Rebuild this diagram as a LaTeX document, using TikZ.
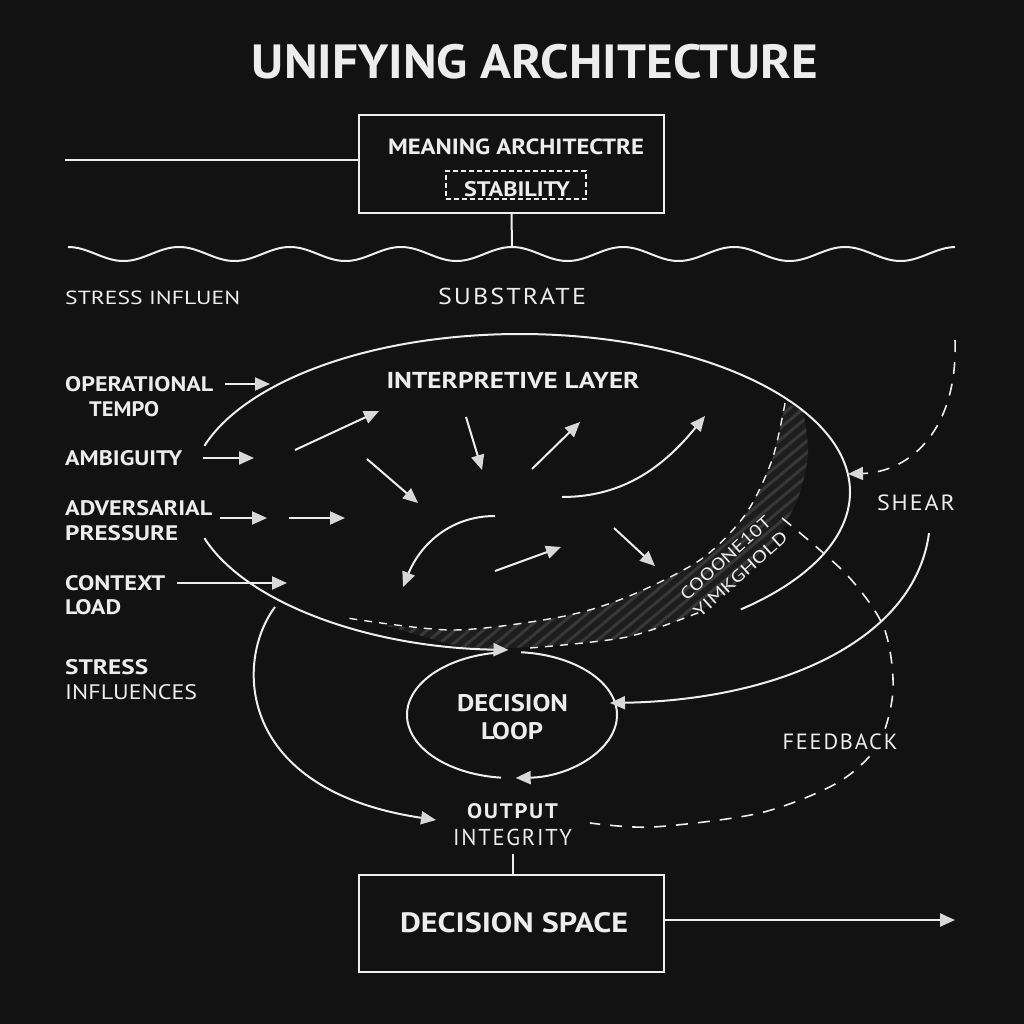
\documentclass[tikz,border=0pt]{standalone}
\usepackage{fontspec}
\usepackage{graphicx}
\setmainfont{PT Sans}
\newfontfamily\spaced{PT Sans}[LetterSpace=8]
\usetikzlibrary{arrows.meta,patterns.meta}
\definecolor{bgc}{HTML}{121212}
\definecolor{lnc}{HTML}{EEEEEE}
\definecolor{tipc}{HTML}{D8D8D8}
\definecolor{txtc}{HTML}{EDEDED}
\definecolor{hatchc}{HTML}{383838}
\definecolor{bandc}{HTML}{1D1D1D}
\newcommand\FB[1]{\fontsize{#1}{#1}\selectfont\bfseries}
\newcommand\FR[1]{\fontsize{#1}{#1}\selectfont}
\newcommand\FS[1]{\spaced\fontsize{#1}{#1}\selectfont}
\newcommand\W[2]{\resizebox{#1pt}{\height}{#2}}
\begin{document}
\begin{tikzpicture}[x=1pt,y=-1pt,
  ln/.style={draw=lnc,line width=2pt},
  arr/.style={draw=lnc,line width=2pt,-{Triangle[length=15pt,width=13pt,color=tipc]}},
  dsh/.style={draw=lnc,line width=1.6pt,dash pattern=on 12pt off 10pt},
  sdsh/.style={draw=lnc,line width=1.4pt,dash pattern=on 8pt off 7pt},
  bx/.style={draw=lnc,line width=2pt,minimum width=305pt,minimum height=98pt,inner sep=0pt},
  lb/.style={text=txtc,inner sep=0pt}]
\fill[bgc] (0,0) rectangle (1024,1024);
\useasboundingbox (0,0) rectangle (1024,1024);

% title
\node[lb,font={\FB{48}}] (title) at (535,62) {\W{566}{UNIFYING ARCHITECTURE}};

% meaning architecture box
\node[bx] (mbox) at (511.5,164) {};
\node[lb,font={\FB{22}}] (mean) at (516,147) {\W{256}{MEANING ARCHITECTRE}};
\node[draw=lnc,line width=1.2pt,dash pattern=on 5pt off 3pt,minimum width=140pt,minimum height=28pt,inner sep=0pt] (stabbox) at (516,185) {};
\node[lb,font={\FB{21}}] (stab) at (517,189) {\W{106}{STABILITY}};
\coordinate (tl) at (65,160);
\draw[ln] (tl) -- (tl -| mbox.west);

% wave
\coordinate (wtop) at (512,247);
\draw[ln] (mbox.south) -- (wtop);
\draw[ln] plot[domain=68:955,samples=400] (\x,{254-7*cos((\x-512)*3.24324)});

\node[lb,font={\FR{19}},anchor=west] (sinf) at (65,298) {\W{175}{STRESS INFLUEN}};
\node[lb,font={\FS{23}}] (subs) at (512,296) {\W{148}{SUBSTRATE}};

% hatched band
\fill[bandc] plot[smooth] coordinates {(785,403) (772,460) (745,515) (700,560) (627,597) (560,617) (453,630) (380,624)}
  -- plot[smooth] coordinates {(470,650) (560,645) (627,637) (700,610) (760,560) (795,505) (808,455) (803,410)} -- cycle;
\fill[pattern={Lines[angle=40,distance=9pt,line width=3pt]},pattern color=hatchc]
  plot[smooth] coordinates {(785,403) (772,460) (745,515) (700,560) (627,597) (560,617) (453,630) (380,624)}
  -- plot[smooth] coordinates {(470,650) (560,645) (627,637) (700,610) (760,560) (795,505) (808,455) (803,410)} -- cycle;
\draw[sdsh] plot[smooth] coordinates {(785,403) (772,460) (745,515) (700,560) (627,597) (560,617) (453,630) (347,618)};
\draw[sdsh] plot[smooth] coordinates {(530,648) (627,637) (700,612)};
\node[lb,font={\fontsize{17}{22}\selectfont},rotate=42,align=center] (coo) at (733,566) {\W{116}{COOONE10T}\\\W{120}{YIMKGHOLD}};

% interpretive layer ellipse
\coordinate (ec) at (520,492);
\draw[ln] ([shift={(ec)}]48:330 and 158) arc[start angle=48,end angle=-163,x radius=330,y radius=158];
\draw[arr] ([shift={(ec)}]163:330 and 158) arc[start angle=163,end angle=92,x radius=330,y radius=158];
\node[lb,font={\FB{23}}] (interp) at (513,380) {\W{253}{INTERPRETIVE LAYER}};

% left labels
\node[lb,font={\FB{21}},anchor=west] (op) at (65,384.5) {\W{148}{OPERATIONAL}};
\node[lb,font={\FB{21}},anchor=west] (tempo) at (89,409) {\W{70}{TEMPO}};
\node[lb,font={\FB{21}},anchor=west] (amb) at (65,458) {\W{117}{AMBIGUITY}};
\node[lb,font={\FB{21}},anchor=west] (adv) at (65,508) {\W{147}{ADVERSARIAL}};
\node[lb,font={\FB{21}},anchor=west] (press) at (65,533) {\W{113}{PRESSURE}};
\node[lb,font={\FB{21}},anchor=west] (ctx) at (65,583) {\W{100}{CONTEXT}};
\node[lb,font={\FB{21}},anchor=west] (load) at (65,607) {\W{56}{LOAD}};
\node[lb,font={\FB{21}},anchor=west] (stress) at (65,667) {\W{83}{STRESS}};
\node[lb,font={\FR{21}},anchor=west] (infl) at (65,692) {\W{132}{INFLUENCES}};

\coordinate (opa) at (225,384); \coordinate (opb) at (270,384);
\coordinate (amba) at (203,458); \coordinate (ambb) at (254,458);
\coordinate (adva) at (220,518); \coordinate (advb) at (267,518);
\coordinate (advc) at (289,518); \coordinate (advd) at (345,518);
\coordinate (ctxa) at (177,583); \coordinate (ctxb) at (287,583);
\draw[arr] (opa) -- (opb);
\draw[arr] (amba) -- (ambb);
\draw[arr] (adva) -- (advb);
\draw[arr] (advc) -- (advd);
\draw[arr] (ctxa) -- (ctxb);

% interior arrows
\coordinate (i1a) at (295,450); \coordinate (i1b) at (379,411);
\coordinate (i2a) at (466,417); \coordinate (i2b) at (482,470);
\coordinate (i3a) at (532,469); \coordinate (i3b) at (580,422);
\coordinate (i4a) at (562,497); \coordinate (i4b) at (705,416);
\coordinate (i5a) at (367,459); \coordinate (i5b) at (418,503);
\coordinate (i6a) at (495,516); \coordinate (i6b) at (403,587);
\coordinate (i7a) at (495,571); \coordinate (i7b) at (561,547);
\coordinate (i8a) at (614,528); \coordinate (i8b) at (655,566);
\draw[arr] (i1a) -- (i1b);
\draw[arr] (i2a) -- (i2b);
\draw[arr] (i3a) -- (i3b);
\draw[arr] (i4a) .. controls (625,497) and (665,465) .. (i4b);
\draw[arr] (i5a) -- (i5b);
\draw[arr] (i6a) .. controls (450,516) and (420,545) .. (i6b);
\draw[arr] (i7a) -- (i7b);
\draw[arr] (i8a) -- (i8b);

% shear
\coordinate (sh0) at (955,340); \coordinate (sh1) at (848,474);
\draw[dsh,-{Triangle[length=15pt,width=13pt,color=tipc]}] (sh0) .. controls (958,430) and (910,472) .. (sh1);
\node[lb,font={\FS{22}}] (shear) at (916,503) {\W{78}{SHEAR}};

% decision loop
\coordinate (dc) at (512,715);
\draw[ln] ([shift={(dc)}]260:105 and 63) arc[start angle=260,end angle=96,x radius=105,y radius=63];
\draw[arr] ([shift={(dc)}]-85:105 and 63) arc[start angle=-85,end angle=88,x radius=105,y radius=63];
\node[lb,font={\FB{24}}] (dec) at (512.5,703) {\W{111}{DECISION}};
\node[lb,font={\FB{24}}] (loop) at (512,731) {\W{62}{LOOP}};

\coordinate (sc0) at (929,533); \coordinate (sc1) at (610,703);
\draw[arr] (sc0) .. controls (915,640) and (780,700) .. (sc1);

% left curve to output
\coordinate (lc0) at (275,607); \coordinate (lc1) at (436,820);
\draw[arr] (lc0) .. controls (235,660) and (235,790) .. (lc1);

% feedback
\draw[dsh] plot[smooth] coordinates {(782,518) (847,575) (884,628) (893,690) (878,745) (837,783) (760,813) (653,827) (590,823)};
\node[lb,font={\FS{22}},fill=bgc,inner sep=3pt] (fb) at (840,742) {\W{115}{FEEDBACK}};

% output
\node[lb,font={\spaced\FB{21}}] (outp) at (512.5,811) {\W{91}{OUTPUT}};
\node[lb,font={\FS{23}}] (integ) at (512.5,837) {\W{119}{INTEGRITY}};

% decision space
\node[bx,minimum height=97pt] (dbox) at (511.5,923.5) {};
\node[lb,font={\FB{28}}] (dspace) at (514,923) {\W{228}{DECISION SPACE}};
\draw[ln,shorten <=8pt] (integ.south) -- (integ.south |- dbox.north);
\coordinate (dend) at (955,920);
\draw[arr] (dbox.east |- dend) -- (dend);
\end{tikzpicture}
\end{document}
